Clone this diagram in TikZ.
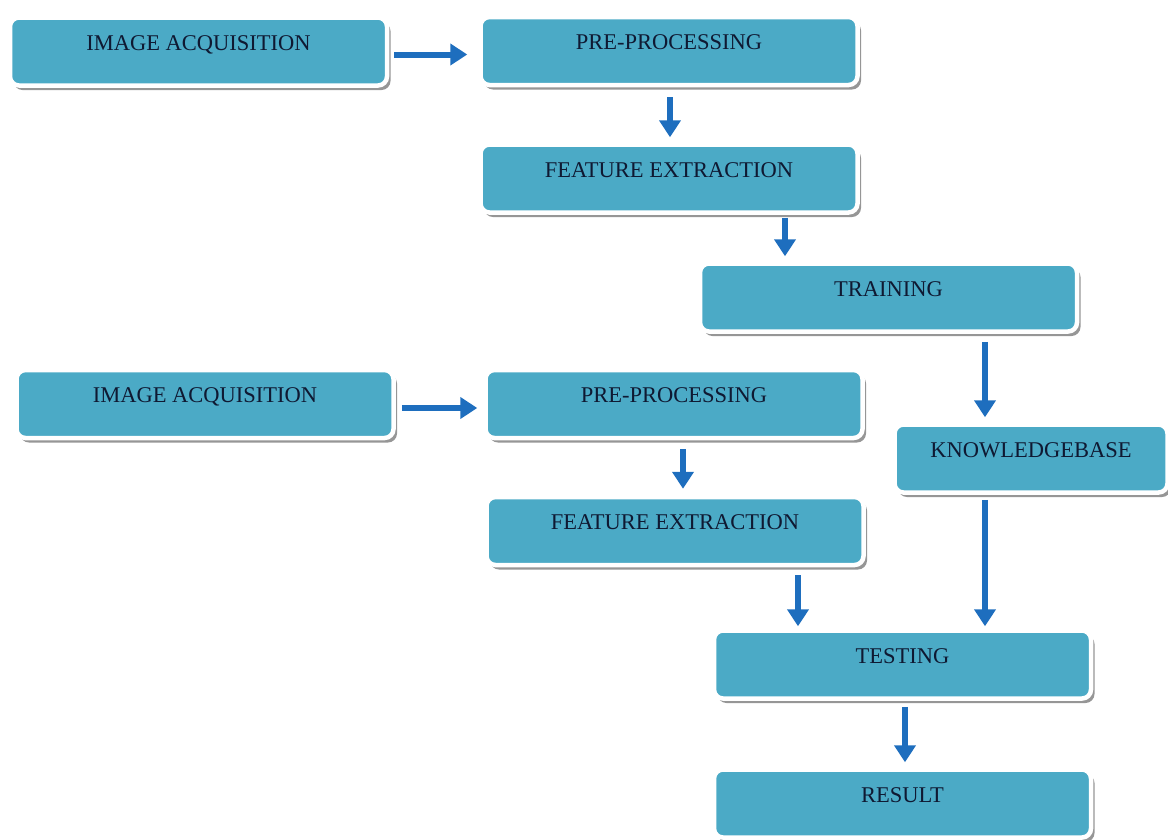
\documentclass[tikz,border=0pt]{standalone}
\usepackage{fontspec}
\setmainfont{Liberation Serif}
\usetikzlibrary{shadows,arrows.meta}
\definecolor{boxfill}{RGB}{75,170,198}
\definecolor{arrblue}{RGB}{30,110,190}
\definecolor{txt}{RGB}{15,25,50}
\tikzset{
  stepbox/.style={rounded corners=9pt, fill=boxfill, draw=white, line width=4.5pt,
    drop shadow={shadow xshift=3.5pt, shadow yshift=-4.5pt, fill=black!55, opacity=0.75},
    minimum width=377pt, minimum height=68pt, inner xsep=0pt, inner ysep=0pt,
    text height=32.5pt, text depth=35.5pt, text=txt,
    font=\fontsize{22.5}{26}\selectfont},
  arr/.style={draw=arrblue, line width=6pt, -{Triangle[width=21pt,length=17pt]}}
}
\begin{document}
\begin{tikzpicture}[x=1pt,y=-1pt]
\useasboundingbox (0,0) rectangle (1168,839);
\node[stepbox] (ia1) at (198.5,51.5) {IMAGE ACQUISITION};
\node[stepbox] (pp1) at (669,51) {PRE-PROCESSING};
\node[stepbox] (fe1) at (669,178.5) {FEATURE EXTRACTION};
\node[stepbox] (tr) at (888.5,297.5) {TRAINING};
\node[stepbox] (ia2) at (205,404) {IMAGE ACQUISITION};
\node[stepbox] (pp2) at (674,404) {PRE-PROCESSING};
\node[stepbox, minimum width=273pt] (kb) at (1031,458.5) {KNOWLEDGEBASE};
\node[stepbox] (fe2) at (675,531) {FEATURE EXTRACTION};
\node[stepbox] (test) at (902.5,664.5) {TESTING};
\node[stepbox] (res) at (902.5,803.5) {RESULT};

\draw[arr, shorten <=5pt, shorten >=11pt] ([yshift=-3]ia1.east) -- ([yshift=-3]ia1.east -| pp1.west);
\draw[arr, shorten <=10pt, shorten >=5pt] ([xshift=1]pp1.south) -- ([xshift=1]pp1.south |- fe1.north);
\draw[arr, shorten <=3pt, shorten >=5pt] ([xshift=116]fe1.south) -- ([xshift=116]fe1.south |- tr.north);
\draw[arr, shorten <=8pt, shorten >=5pt] ([xshift=96.5]tr.south) -- ([xshift=96.5]tr.south |- kb.north);
\draw[arr, shorten <=6pt, shorten >=6pt] ([yshift=-4]ia2.east) -- ([yshift=-4]ia2.east -| pp2.west);
\draw[arr, shorten <=9pt, shorten >=6pt] ([xshift=9]pp2.south) -- ([xshift=9]pp2.south |- fe2.north);
\draw[arr, shorten <=8pt, shorten >=2pt] ([xshift=123]fe2.south) -- ([xshift=123]fe2.south |- test.north);
\draw[arr, shorten <=5pt, shorten >=2pt] ([xshift=-46]kb.south) -- ([xshift=-46]kb.south |- test.north);
\draw[arr, shorten <=6pt, shorten >=5pt] ([xshift=2.5]test.south) -- ([xshift=2.5]test.south |- res.north);
\end{tikzpicture}
\end{document}
